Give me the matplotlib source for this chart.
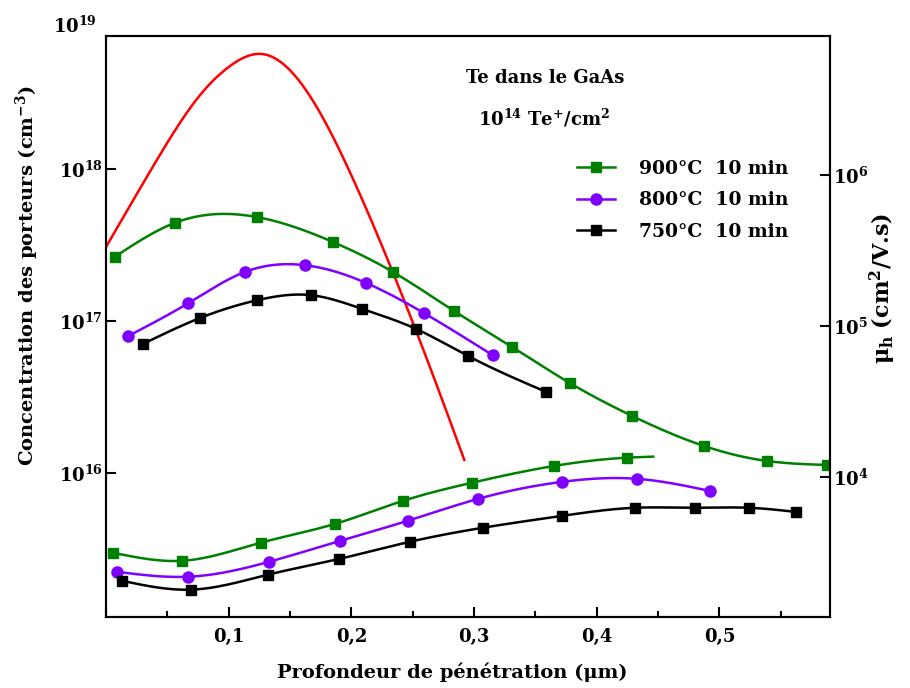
import numpy as np
import matplotlib
matplotlib.use('Agg')
import matplotlib.pyplot as plt
from matplotlib.ticker import NullLocator, FixedLocator, MultipleLocator, FuncFormatter

plt.rcParams['font.family'] = 'DejaVu Serif'
plt.rcParams['font.weight'] = 'bold'
plt.rcParams['mathtext.fontset'] = 'custom'
plt.rcParams['mathtext.rm'] = 'DejaVu Serif:bold'
plt.rcParams['mathtext.it'] = 'DejaVu Serif:bold'
plt.rcParams['mathtext.bf'] = 'DejaVu Serif:bold'

# Te implanted profile (left axis, cm^-3)
x_te = [0.0, 0.038, 0.078, 0.100, 0.127, 0.160, 0.198, 0.234, 0.268, 0.292]
n_te = [3.07e17, 1.03e18, 3.16e18, 4.69e18, 5.71e18, 3.57e18, 9.84e17, 2.07e17,
        4.09e16, 1.22e16]

# carrier concentration (left axis, cm^-3)
x_n900 = [0.007, 0.056, 0.123, 0.185, 0.234, 0.284, 0.331, 0.378, 0.429, 0.487, 0.539, 0.588]
n_900 = [2.64e17, 4.42e17, 4.83e17, 3.31e17, 2.10e17, 1.16e17, 6.75e16, 3.91e16,
         2.37e16, 1.51e16, 1.20e16, 1.13e16]
x_n800 = [0.018, 0.067, 0.113, 0.162, 0.212, 0.259, 0.315]
n_800 = [7.96e16, 1.31e17, 2.10e17, 2.33e17, 1.78e17, 1.13e17, 5.97e16]
x_n750 = [0.030, 0.077, 0.123, 0.167, 0.209, 0.253, 0.295, 0.359]
n_750 = [7.06e16, 1.05e17, 1.37e17, 1.48e17, 1.20e17, 8.85e16, 5.89e16, 3.41e16]

# hall mobility (right axis, cm2/V.s)
x_m900 = [0.006, 0.062, 0.126, 0.187, 0.242, 0.298, 0.365, 0.425, 0.446]
mu_900 = [3140, 2780, 3660, 4890, 6930, 9130, 11800, 13400, 13600]
x_m800 = [0.009, 0.067, 0.133, 0.191, 0.246, 0.303, 0.372, 0.433, 0.492]
mu_800 = [2350, 2180, 2740, 3770, 5120, 7140, 9270, 9700, 8070]
x_m750 = [0.013, 0.069, 0.132, 0.190, 0.248, 0.307, 0.372, 0.431, 0.480, 0.524, 0.562]
mu_750 = [2050, 1790, 2250, 2860, 3720, 4600, 5520, 6240, 6240, 6240, 5860]

labels = ['900°C  10 min', '800°C  10 min', '750°C  10 min']
colors = ['#008000', '#8000ff', 'black']
markers = ['s', 'o', 's']
xticklabels = ['0,1', '0,2', '0,3', '0,4', '0,5']


def spline_log(x, y, num=300):
    # natural cubic spline through the points, in log space (drawing only)
    x = np.asarray(x, float)
    y = np.log10(np.asarray(y, float))
    n = len(x)
    h = np.diff(x)
    A = np.zeros((n, n))
    b = np.zeros(n)
    A[0, 0] = A[-1, -1] = 1
    for i in range(1, n - 1):
        A[i, i - 1] = h[i - 1]
        A[i, i] = 2 * (h[i - 1] + h[i])
        A[i, i + 1] = h[i]
        b[i] = 6 * ((y[i + 1] - y[i]) / h[i] - (y[i] - y[i - 1]) / h[i - 1])
    M = np.linalg.solve(A, b)
    xs = np.linspace(x[0], x[-1], num)
    k = np.clip(np.searchsorted(x, xs) - 1, 0, n - 2)
    t0 = x[k + 1] - xs
    t1 = xs - x[k]
    hk = h[k]
    ys = (M[k] * t0 ** 3 + M[k + 1] * t1 ** 3) / (6 * hk) \
        + (y[k] / hk - M[k] * hk / 6) * t0 + (y[k + 1] / hk - M[k + 1] * hk / 6) * t1
    return xs, 10 ** ys


fig = plt.figure(figsize=(9.1, 6.88), dpi=100)
ax = fig.add_axes([0.1165, 0.1032, 0.7955, 0.8445])
ax2 = ax.twinx()

LW = 1.8
xs, ys = spline_log(x_te, n_te)
ax.plot(xs, ys, color='red', lw=LW)

handles = []
for xx, yy, c, m, lab in zip([x_n900, x_n800, x_n750], [n_900, n_800, n_750],
                             colors, markers, labels):
    ms = 8 if m == 'o' else 6.5
    xs, ys = spline_log(xx, yy)
    ax.plot(xs, ys, color=c, lw=LW)
    ax.plot(xx, yy, ls='none', marker=m, color=c, ms=ms)
    h, = ax.plot([], [], color=c, lw=LW, marker=m, ms=ms, label=lab)
    handles.append(h)

for xx, yy, c, m, nmk in zip([x_m900, x_m800, x_m750], [mu_900, mu_800, mu_750],
                             colors, markers, [8, 9, 11]):
    ms = 8 if m == 'o' else 6.5
    xs, ys = spline_log(xx, yy)
    ax2.plot(xs, ys, color=c, lw=LW)
    ax2.plot(xx[:nmk], yy[:nmk], ls='none', marker=m, color=c, ms=ms)

ax.set_yscale('log')
ax2.set_yscale('log')
ax.set_xlim(0, 0.59)
ax.set_ylim(1.13e15, 7.5e18)
ax2.set_ylim(1180, 8.3e6)

ax.xaxis.set_major_locator(FixedLocator([0.1, 0.2, 0.3, 0.4, 0.5]))
ax.set_xticklabels(xticklabels)
ax.xaxis.set_minor_locator(MultipleLocator(0.05))
ax.yaxis.set_major_locator(FixedLocator([1e16, 1e17, 1e18]))
ax.yaxis.set_minor_locator(NullLocator())
ax.yaxis.set_major_formatter(FuncFormatter(lambda v, p: r'$10^{%d}$' % round(np.log10(v))))
ax2.yaxis.set_major_locator(FixedLocator([1e4, 1e5, 1e6]))
ax2.yaxis.set_minor_locator(NullLocator())
ax2.yaxis.set_major_formatter(FuncFormatter(lambda v, p: r'$10^{%d}$' % round(np.log10(v))))

ax.tick_params(axis='x', which='major', direction='in', length=7, width=1.5,
               labelsize=13, pad=8, top=False)
ax.tick_params(axis='x', which='minor', direction='in', length=4, width=1.5, top=False)
ax.tick_params(axis='y', which='major', direction='in', length=7, width=1.5,
               labelsize=13, pad=2, right=False)
ax2.tick_params(axis='y', which='major', direction='in', length=7, width=1.5,
                labelsize=13, pad=2)
for a in (ax, ax2):
    for s in a.spines.values():
        s.set_linewidth(1.5)

ax.text(-0.012, 1.016, r'$10^{19}$', transform=ax.transAxes, ha='right', va='center',
        fontsize=13)

ax.set_xlabel('Profondeur de pénétration (μm)', fontsize=14, fontweight='bold')
ax.xaxis.set_label_coords(0.478, -0.078)
ax.set_ylabel('Concentration des porteurs (cm$^{-3}$)', fontsize=14, fontweight='bold')
ax.yaxis.set_label_coords(-0.09, 0.588)
ax2.set_ylabel(r'$\mu_h$ (cm$^2$/V.s)', fontsize=16, fontweight='bold')
ax2.yaxis.set_label_coords(1.052, 0.565)

fig.text(0.599, 0.887, 'Te dans le GaAs', ha='center', va='center', fontsize=13,
         fontweight='bold')
fig.text(0.598, 0.828, r'$10^{14}$ Te$^{+}$/cm$^{2}$', ha='center', va='center',
         fontsize=13, fontweight='bold')

ax.legend(handles=handles, loc='upper left', bbox_to_anchor=(0.616, 0.792),
          bbox_transform=fig.transFigure, frameon=False, fontsize=13.5,
          handlelength=2.0, handletextpad=1.3, labelspacing=0.72)

plt.savefig('out.png', dpi=100)
